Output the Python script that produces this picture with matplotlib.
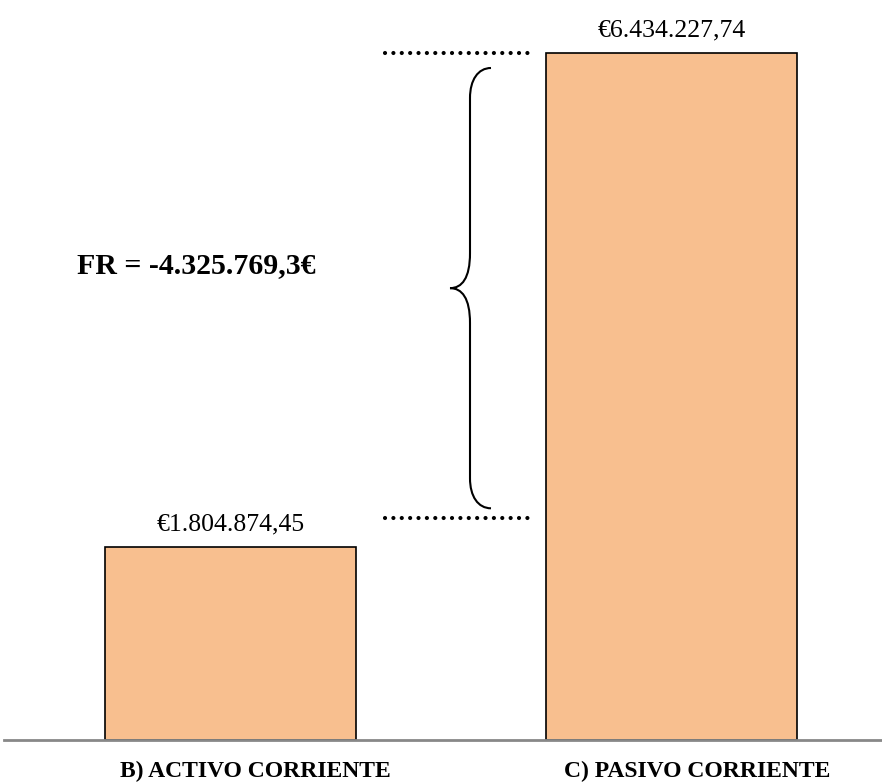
import numpy as np
import matplotlib
matplotlib.use('Agg')
import matplotlib.pyplot as plt
import matplotlib.transforms as mtransforms
from matplotlib.path import Path
from matplotlib.patches import PathPatch

plt.rcParams['font.family'] = ['Liberation Serif', 'DejaVu Serif']

# datos del fondo de rotacion
categorias = ['B) ACTIVO CORRIENTE', 'C) PASIVO CORRIENTE']
valores = [1804874.45, 6434227.74]
etiquetas = ['€1.804.874,45', '€6.434.227,74']
texto_fr = 'FR = -4.325.769,3€'

W, H = 882, 783
fig = plt.figure(figsize=(W / 100.0, H / 100.0), dpi=100)
ax = fig.add_axes([0.005, 43.0 / H, 0.995, 1 - 43.0 / H])

x = np.arange(len(valores))
ax.bar(x, valores, width=0.569, color='#F8BF8F', edgecolor='black', linewidth=1.2, zorder=2)
ax.set_xlim(-0.512, 1.476)
ax.set_ylim(0, valores[1] * 740.0 / 687.0)

for s in ['top', 'right', 'left']:
    ax.spines[s].set_visible(False)
ax.spines['bottom'].set_color('#888888')
ax.spines['bottom'].set_linewidth(2)
ax.set_yticks([])
ax.set_xticks(x)
ax.set_xticklabels(categorias, fontsize=17, fontweight='bold')
ax.tick_params(axis='x', length=0, pad=15)
desplaza = mtransforms.ScaledTranslation(25 / 100.0, 0, fig.dpi_scale_trans)
for lab in ax.get_xticklabels():
    lab.set_transform(lab.get_transform() + desplaza)

# etiquetas de valor
for xi, v, t in zip(x, valores, etiquetas):
    ax.annotate(t, (xi, v), xytext=(0, 17), textcoords='offset pixels',
                ha='center', va='baseline', fontsize=18.5)

# lineas punteadas
trans = mtransforms.blended_transform_factory(fig.transFigure, ax.transData)
x0, x1 = 385.0 / W, 530.0 / W
punto = (0, (0.01, 2.0))
ax.plot([x0, x1], [valores[1], valores[1]], transform=trans, color='black',
        linestyle=punto, linewidth=3, dash_capstyle='round', clip_on=False)
sube = mtransforms.ScaledTranslation(0, 29 / 100.0, fig.dpi_scale_trans)
ax.plot([x0, x1], [valores[0], valores[0]], transform=trans + sube, color='black',
        linestyle=punto, linewidth=3, dash_capstyle='round', clip_on=False)

# llave
fig.canvas.draw()
y_top = ax.transData.transform((0, valores[1]))[1] - 15
y_bot = ax.transData.transform((0, valores[0]))[1] + 29 + 10
y_mid = (y_top + y_bot) / 2.0
xr, xv, xt = 491, 470, 450
verts = [(xr, y_top), (478, y_top), (xv, y_top - 12), (xv, y_top - 30),
         (xv, y_mid + 35),
         (xv, y_mid + 10), (462, y_mid), (xt, y_mid),
         (462, y_mid), (xv, y_mid - 10), (xv, y_mid - 35),
         (xv, y_bot + 30),
         (xv, y_bot + 12), (478, y_bot), (xr, y_bot)]
codes = [Path.MOVETO, Path.CURVE4, Path.CURVE4, Path.CURVE4,
         Path.LINETO,
         Path.CURVE4, Path.CURVE4, Path.CURVE4,
         Path.CURVE4, Path.CURVE4, Path.CURVE4,
         Path.LINETO,
         Path.CURVE4, Path.CURVE4, Path.CURVE4]
llave = PathPatch(Path(verts, codes), facecolor='none', edgecolor='black',
                  linewidth=1.5, transform=mtransforms.IdentityTransform())
fig.patches.append(llave)

fig.text(77.0 / W, 1 - 266.0 / H, texto_fr, fontsize=21.5, fontweight='bold',
         ha='left', va='center')

fig.savefig('out.png', dpi=100)
